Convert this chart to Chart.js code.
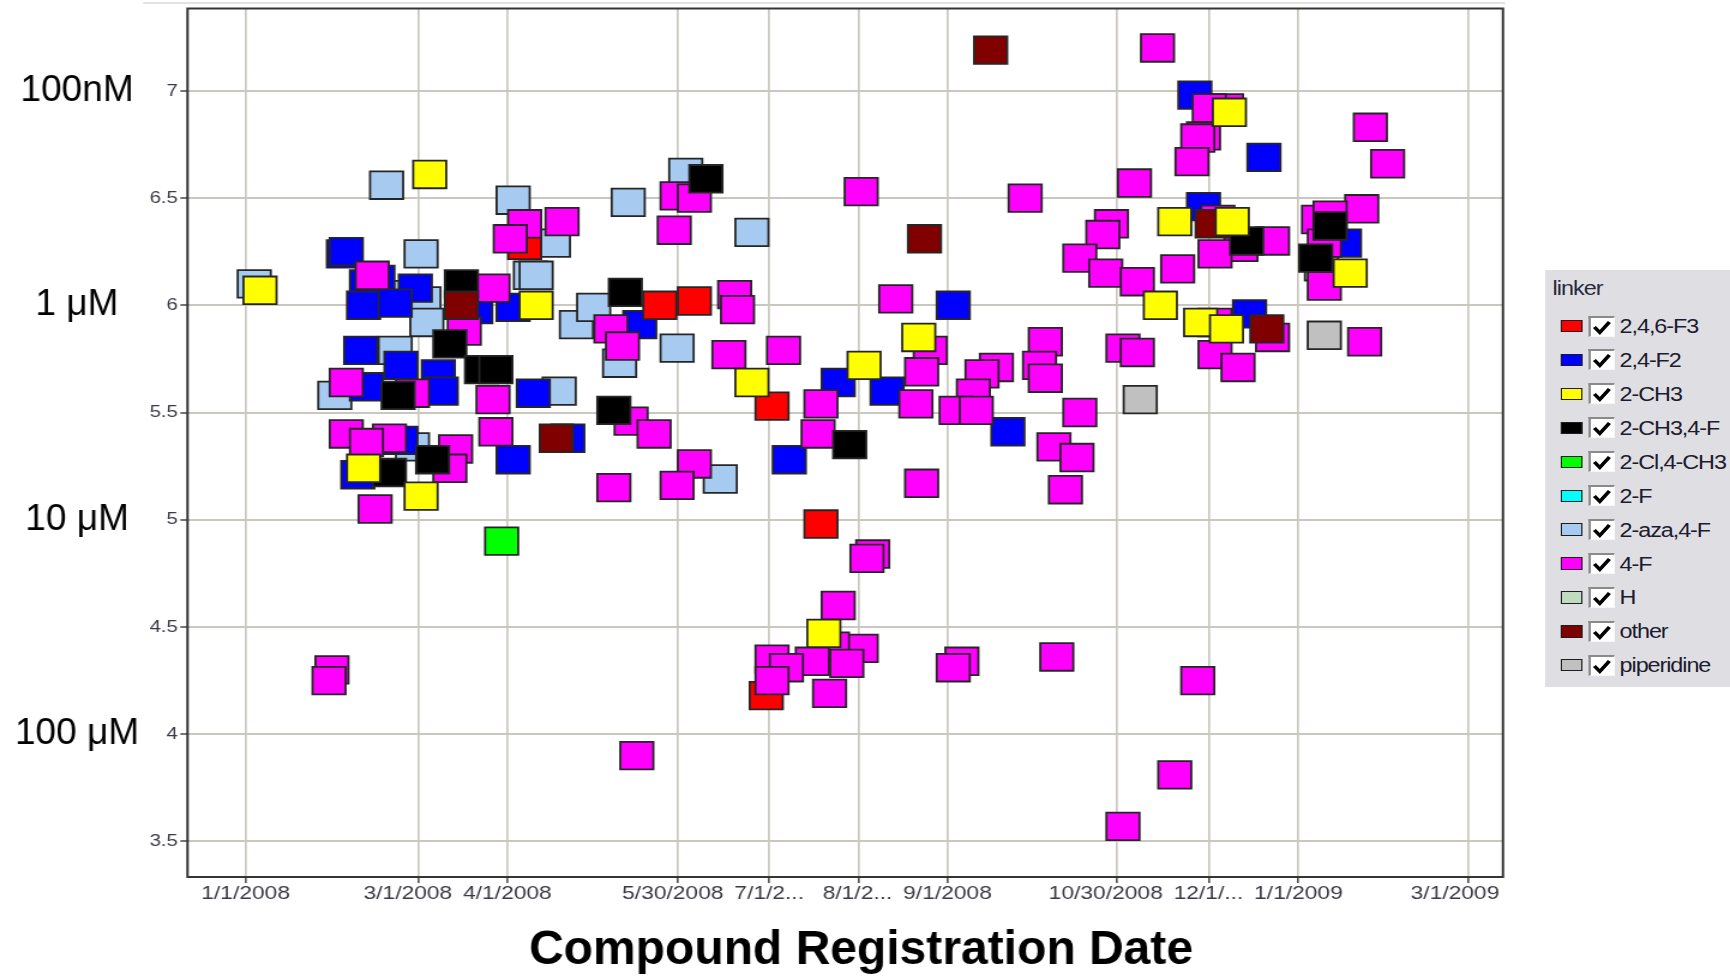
<!DOCTYPE html>
<html>
<head>
<meta charset="utf-8">
<script src="https://cdn.jsdelivr.net/npm/chart.js@4.4.1/dist/chart.umd.min.js"></script>
<style>
  html, body { margin: 0; padding: 0; background: #fff; overflow: hidden; width: 1730px; height: 978px; }
  /* the screenshot-style panel is drawn 1442px wide and widened to 1730px */
  #stage { position: absolute; left: 0; top: 0; width: 1442px; height: 978px;
           transform: scaleX(1.19972); transform-origin: 0 0; }
  #plot { position: absolute; left: 0; top: 0; width: 1442px; height: 978px; }
  #legend { position: absolute; left: 1287.5px; top: 270px; width: 154.5px; height: 417px;
            background: #dedee3; font-family: "Liberation Sans", Arial, sans-serif; }
  #legend .ttl { position: absolute; left: 6.5px; top: 7px; font-size: 19.5px; line-height: 22px;
                 color: #2a2a3c; letter-spacing: -0.8px; }
  #legend .sw { position: absolute; left: 13.9px; width: 17.5px; height: 12.3px;
                box-sizing: border-box; border: 1.5px solid #1e1e1e; }
  #legend .cb { position: absolute; left: 36.9px; width: 21.4px; height: 21px; box-sizing: border-box;
                background: #fff; border-top: 2px solid #8a8a8a; border-left: 2px solid #8a8a8a;
                border-bottom: 1.5px solid #f6f6f6; border-right: 1.5px solid #f6f6f6; }
  #legend .cb svg { position: absolute; left: 0; top: 0; }
  #legend .lb { position: absolute; left: 62.5px; font-size: 19.5px; line-height: 22px;
                color: #1c1c2e; letter-spacing: -0.9px; white-space: nowrap; }
</style>
</head>
<body>
<div id="stage">
  <div id="plot"><canvas id="chart"></canvas></div>
  <div id="legend"></div>
</div>
<script>
// ---- axis ticks -------------------------------------------------------
// x values are days after 1/1/2008
const xTickDays   = [0, 60, 91, 150, 182, 213, 244, 303, 335, 366, 425];
const xTickLabels = ['1/1/2008', '3/1/2008', '4/1/2008', '5/30/2008', '7/1/2...', '8/1/2...',
                     '9/1/2008', '10/30/2008', '12/1/...', '1/1/2009', '3/1/2009'];
const yTickValues = [3.5, 4, 4.5, 5, 5.5, 6, 6.5, 7];
const unitValues  = [7, 6, 5, 4];
const unitLabels  = ['100nM', '1 \u03BCM', '10 \u03BCM', '100 \u03BCM'];
const axisTitle   = 'Compound Registration Date';
const legendTitle = 'linker';

// ---- series: registration day and potency (-log M) --------------------
const linkerNames = ['2,4,6-F3', '2,4-F2', '2-CH3', '2-CH3,4-F', '2-Cl,4-CH3', '2-F',
                     '2-aza,4-F', '4-F', 'H', 'other', 'piperidine'];

const daysF3 = [97, 144, 156, 183, 200, 181];
const potF3  = [6.28, 6.00, 6.02, 5.53, 4.98, 4.18];

const daysF2 = [34, 35, 42, 46, 59, 41, 52, 80, 93, 40, 54, 67, 42, 68, 100,
                54, 39, 93, 112, 137, 189, 206, 223, 246, 265, 330, 354, 333, 349, 382];
const potF2  = [6.24, 6.25, 6.10, 6.12, 6.08, 6.00, 6.01, 5.98, 5.99, 5.79, 5.72, 5.68, 5.62, 5.60, 5.59,
                5.37, 5.21, 5.28, 5.38, 5.91, 5.28, 5.64, 5.60, 6.00, 5.41, 6.98, 6.69, 6.46, 5.96, 6.29];

const daysCH3 = [5, 64, 101, 41, 61, 176, 215, 234, 201, 318, 323, 343, 342, 332, 341, 384];
const potCH3  = [6.07, 6.61, 6.00, 5.24, 5.11, 5.64, 5.72, 5.85, 4.47, 6.00, 6.39, 6.39, 6.90, 5.92, 5.89, 6.15];

const daysCH3F = [160, 75, 71, 82, 87, 132, 53, 65, 50, 128, 210, 348, 377, 372];
const potCH3F  = [6.59, 6.10, 5.82, 5.70, 5.70, 6.06, 5.58, 5.28, 5.22, 5.51, 5.35, 6.30, 6.37, 6.22];

const daysClCH3 = [89];
const potClCH3  = [4.90];

const days2F = [];
const pot2F  = [];

const daysAza = [3, 49, 93, 107, 99, 101, 153, 133, 176, 61, 54, 62, 63, 52, 115,
                 121, 130, 150, 31, 109, 58, 165];
const potAza  = [6.10, 6.56, 6.49, 6.29, 6.14, 6.14, 6.62, 6.48, 6.34, 6.24, 6.05, 6.02, 5.92, 5.79, 5.91,
                 5.99, 5.73, 5.80, 5.58, 5.60, 5.34, 5.19];

const days4F = [97, 110, 92, 150, 156, 149, 44, 86, 76, 170,
                171, 127, 131, 168, 187, 35, 58, 86, 35, 50,
                42, 73, 71, 45, 87, 134, 142, 128, 156, 150,
                30, 29, 136, 218, 216, 206, 214, 204, 183, 197,
                209, 188, 183, 203, 249, 246, 282, 305, 323, 331,
                214, 271, 226, 238, 235, 233, 200, 199, 235, 278,
                276, 278, 261, 256, 253, 247, 254, 290, 281, 289,
                285, 305, 310, 317, 309, 301, 298, 290, 299, 310,
                341, 335, 333, 331, 329, 391, 397, 388, 338, 357,
                346, 337, 324, 337, 357, 337, 345, 373, 377, 375,
                375, 389];
const pot4F  = [6.38, 6.39, 6.31, 6.51, 6.50, 6.35, 6.14, 6.08, 5.88, 6.05,
                5.98, 5.89, 5.81, 5.77, 5.79, 5.64, 5.59, 5.56, 5.40, 5.38,
                5.36, 5.33, 5.24, 5.05, 5.41, 5.46, 5.40, 5.15, 5.26, 5.16,
                4.30, 4.25, 3.90, 4.84, 4.82, 4.60, 4.40, 4.41, 4.35, 4.34,
                4.33, 4.31, 4.25, 4.19, 4.34, 4.31, 4.36, 3.57, 3.81, 4.25,
                6.53, 6.50, 6.03, 5.79, 5.69, 5.54, 5.54, 5.40, 5.17, 5.83,
                5.72, 5.66, 5.71, 5.68, 5.59, 5.51, 5.51, 5.50, 5.34, 5.29,
                5.14, 5.80, 5.78, 7.20, 6.57, 6.38, 6.33, 6.22, 6.15, 6.11,
                6.92, 6.92, 6.79, 6.78, 6.67, 6.83, 6.66, 6.45, 6.40, 6.30,
                6.27, 6.24, 6.17, 5.92, 5.85, 5.77, 5.71, 6.40, 6.42, 6.29,
                6.09, 5.83];

const daysH = [];
const potH  = [];

const daysOther = [75, 108, 259, 236, 336, 355];
const potOther  = [6.00, 5.38, 7.19, 6.31, 6.38, 5.89];

const daysPip = [311, 375, 374];
const potPip  = [5.56, 5.86, 6.18];

// ---- styling ------------------------------------------------------------
const SX = 1730 / 1442;   // horizontal widening of the stage
const linkerColors = ['#ff0000', '#0000ff', '#ffff00', '#000000', '#00ff00', '#00ffff',
                      '#a6caf0', '#ff00ff', '#c0dcc0', '#800000', '#c0c0c0'];
// lower number = drawn on top
const linkerLayer  = [4, 5, 0, 2, 7, 8, 6, 3, 9, 1, 10];
const FONT = '"Liberation Sans", Arial, sans-serif';
const TICK_COLOR = '#3a3a44';

const seriesDays = [daysF3, daysF2, daysCH3, daysCH3F, daysClCH3, days2F, daysAza, days4F, daysH, daysOther, daysPip];
const seriesPot  = [potF3, potF2, potCH3, potCH3F, potClCH3, pot2F, potAza, pot4F, potH, potOther, potPip];

const datasets = linkerNames.map((name, i) => ({
  label: name,
  data: seriesDays[i].map((d, j) => ({ x: d, y: seriesPot[i][j] })),
  order: linkerLayer[i],
  pointStyle: 'rect',
  pointRadius: 19.5,
  pointHoverRadius: 19.5,
  pointBackgroundColor: linkerColors[i],
  pointBorderColor: '#262626',
  pointBorderWidth: 1.8,
  pointHoverBorderWidth: 1.8,
  showLine: false
}));

// plot frame and the thin panel edge above it
const framePlugin = {
  id: 'frame',
  beforeDatasetsDraw(chart) {
    const { ctx, chartArea: a } = chart;
    ctx.save();
    ctx.strokeStyle = '#e3e3e3';
    ctx.lineWidth = 2;
    ctx.beginPath();
    ctx.moveTo(a.left - 37, 3);
    ctx.lineTo(a.right + 2, 3);
    ctx.stroke();
    ctx.strokeStyle = '#353535';
    ctx.lineWidth = 2;
    ctx.strokeRect(a.left, a.top, a.right - a.left, a.bottom - a.top);
    ctx.restore();
  }
};

// date labels: centred under their tick, kept inside the plot, crowded ones nudged left
const xLabelPlugin = {
  id: 'xlabels',
  afterDraw(chart) {
    const { ctx, chartArea: a } = chart;
    const xs = chart.scales.x;
    const GAP = 9;
    ctx.save();
    ctx.font = '19px ' + FONT;
    ctx.fillStyle = TICK_COLOR;
    ctx.textAlign = 'center';
    ctx.textBaseline = 'middle';
    const items = xTickDays.map((d, i) => ({
      text: xTickLabels[i],
      c: xs.getPixelForValue(d),
      w: ctx.measureText(xTickLabels[i]).width
    }));
    const last = items[items.length - 1];
    last.c = Math.min(last.c, a.right - 3 - last.w / 2);
    for (let i = items.length - 2; i >= 0; i--) {
      const limit = items[i + 1].c - items[i + 1].w / 2 - GAP - items[i].w / 2;
      if (items[i].c > limit) items[i].c = limit;
    }
    items.forEach(it => ctx.fillText(it.text, it.c, a.bottom + 17));
    ctx.restore();
  }
};

// concentration captions and the axis title, drawn at natural width
const captionPlugin = {
  id: 'captions',
  afterDraw(chart) {
    const { ctx } = chart;
    const ys = chart.scales.y;
    ctx.save();
    ctx.scale(1 / SX, 1);
    ctx.fillStyle = '#000';
    ctx.textAlign = 'center';
    ctx.textBaseline = 'middle';
    ctx.font = '37px ' + FONT;
    unitValues.forEach((v, i) => ctx.fillText(unitLabels[i], 77, ys.getPixelForValue(v)));
    ctx.font = 'bold 48px ' + FONT;
    ctx.fillText(axisTitle, 861, 951);
    ctx.restore();
  }
};

Chart.defaults.font.family = FONT;

const chart = new Chart(document.getElementById('chart'), {
  type: 'scatter',
  data: { datasets },
  options: {
    responsive: true,
    maintainAspectRatio: false,
    animation: false,
    events: [],
    layout: { autoPadding: false, padding: { left: 116.3, right: 189.25, top: 8.5, bottom: 71 } },
    plugins: { legend: { display: false }, tooltip: { enabled: false } },
    scales: {
      x: {
        type: 'linear',
        min: -20.2,
        max: 437.1,
        afterBuildTicks: s => { s.ticks = xTickDays.map(v => ({ value: v })); },
        afterFit: s => { s.height = 30; s.paddingLeft = 0; s.paddingRight = 0; },
        ticks: { display: false },
        grid: { color: '#c9c7bf', lineWidth: 1.7, tickLength: 6, tickColor: '#444', tickWidth: 1.5 },
        border: { display: false }
      },
      y: {
        type: 'linear',
        min: 3.334,
        max: 7.384,
        afterBuildTicks: s => { s.ticks = yTickValues.map(v => ({ value: v })); },
        afterFit: s => { s.width = 40; s.paddingTop = 0; s.paddingBottom = 0; },
        ticks: { padding: 2, color: TICK_COLOR, font: { size: 17 }, callback: v => String(v) },
        grid: { color: '#c9c7bf', lineWidth: 2, tickLength: 6, tickColor: '#444', tickWidth: 1.5 },
        border: { display: false }
      }
    }
  },
  plugins: [framePlugin, xLabelPlugin, captionPlugin]
});

// legend panel with colour swatches and ticked boxes
(function buildLegend() {
  const box = document.getElementById('legend');
  const t = document.createElement('div');
  t.className = 'ttl';
  t.textContent = legendTitle;
  box.appendChild(t);
  chart.data.datasets.forEach((ds, i) => {
    const cy = 56 + i * 33.93;
    const sw = document.createElement('div');
    sw.className = 'sw';
    sw.style.top = (cy - 6.15) + 'px';
    sw.style.background = linkerColors[i];
    box.appendChild(sw);
    const cb = document.createElement('div');
    cb.className = 'cb';
    cb.style.top = (cy - 10.5) + 'px';
    cb.innerHTML = '<svg width="19" height="19" viewBox="0 0 19 19">' +
      '<polyline points="3,9 7.5,14.5 15.5,4" fill="none" stroke="#000" stroke-width="3.2" ' +
      'stroke-linejoin="miter" stroke-linecap="butt"/></svg>';
    box.appendChild(cb);
    const lb = document.createElement('div');
    lb.className = 'lb';
    lb.style.top = (cy - 11) + 'px';
    lb.textContent = ds.label;
    box.appendChild(lb);
  });
})();
</script>
</body>
</html>
